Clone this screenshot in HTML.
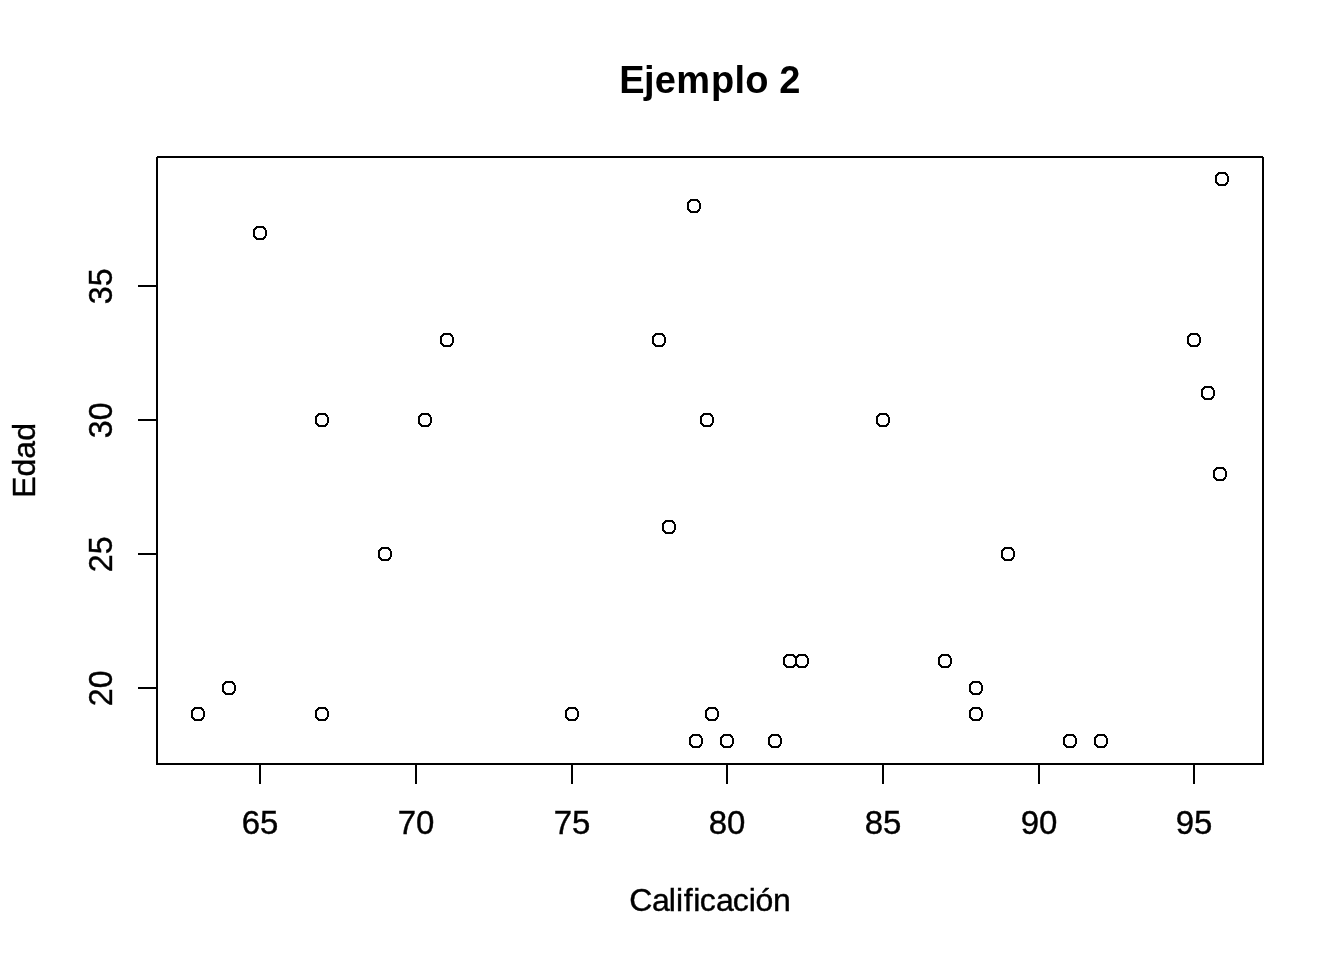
<!DOCTYPE html>
<html lang="es"><head><meta charset="utf-8"><title>Ejemplo 2</title>
<style>
html,body{margin:0;padding:0;background:#fff;}
body{width:1344px;height:960px;overflow:hidden;}
svg{display:block;}
text{font-family:"Liberation Sans",sans-serif;fill:#000;}
.t{font-size:32px;stroke:#000;stroke-width:0.4px;}
.n{font-size:33px;stroke:#000;stroke-width:0.4px;}
.m{font-size:38px;font-weight:bold;letter-spacing:0.2px;}
</style></head><body>
<svg width="1344" height="960" viewBox="0 0 1344 960">
<rect x="0" y="0" width="1344" height="960" fill="#fff"/>
<g fill="#000" fill-rule="evenodd" stroke="none" shape-rendering="crispEdges">
<path d="M194 707h8v1h1v1h1v2h1v6h-1v2h-1v1h-1v1h-8v-1h-1v-1h-1v-1h-1v-8h1v-1h1v-1h1zm1 2h6v1h1v1h1v6h-1v1h-1v1h-6v-1h-1v-1h-1v-6h1v-1h1z"/>
<path d="M225 681h8v1h1v1h1v2h1v6h-1v2h-1v1h-1v1h-8v-1h-1v-1h-1v-1h-1v-8h1v-1h1v-1h1zm1 2h6v1h1v1h1v6h-1v1h-1v1h-6v-1h-1v-1h-1v-6h1v-1h1z"/>
<path d="M256 226h8v1h1v1h1v2h1v6h-1v2h-1v1h-1v1h-8v-1h-1v-1h-1v-1h-1v-8h1v-1h1v-1h1zm1 2h6v1h1v1h1v6h-1v1h-1v1h-6v-1h-1v-1h-1v-6h1v-1h1z"/>
<path d="M318 413h8v1h1v1h1v2h1v6h-1v2h-1v1h-1v1h-8v-1h-1v-1h-1v-1h-1v-8h1v-1h1v-1h1zm1 2h6v1h1v1h1v6h-1v1h-1v1h-6v-1h-1v-1h-1v-6h1v-1h1z"/>
<path d="M318 707h8v1h1v1h1v2h1v6h-1v2h-1v1h-1v1h-8v-1h-1v-1h-1v-1h-1v-8h1v-1h1v-1h1zm1 2h6v1h1v1h1v6h-1v1h-1v1h-6v-1h-1v-1h-1v-6h1v-1h1z"/>
<path d="M381 547h8v1h1v1h1v2h1v6h-1v2h-1v1h-1v1h-8v-1h-1v-1h-1v-1h-1v-8h1v-1h1v-1h1zm1 2h6v1h1v1h1v6h-1v1h-1v1h-6v-1h-1v-1h-1v-6h1v-1h1z"/>
<path d="M421 413h8v1h1v1h1v2h1v6h-1v2h-1v1h-1v1h-8v-1h-1v-1h-1v-1h-1v-8h1v-1h1v-1h1zm1 2h6v1h1v1h1v6h-1v1h-1v1h-6v-1h-1v-1h-1v-6h1v-1h1z"/>
<path d="M443 333h8v1h1v1h1v2h1v6h-1v2h-1v1h-1v1h-8v-1h-1v-1h-1v-1h-1v-8h1v-1h1v-1h1zm1 2h6v1h1v1h1v6h-1v1h-1v1h-6v-1h-1v-1h-1v-6h1v-1h1z"/>
<path d="M568 707h8v1h1v1h1v2h1v6h-1v2h-1v1h-1v1h-8v-1h-1v-1h-1v-1h-1v-8h1v-1h1v-1h1zm1 2h6v1h1v1h1v6h-1v1h-1v1h-6v-1h-1v-1h-1v-6h1v-1h1z"/>
<path d="M655 333h8v1h1v1h1v2h1v6h-1v2h-1v1h-1v1h-8v-1h-1v-1h-1v-1h-1v-8h1v-1h1v-1h1zm1 2h6v1h1v1h1v6h-1v1h-1v1h-6v-1h-1v-1h-1v-6h1v-1h1z"/>
<path d="M665 520h8v1h1v1h1v2h1v6h-1v2h-1v1h-1v1h-8v-1h-1v-1h-1v-1h-1v-8h1v-1h1v-1h1zm1 2h6v1h1v1h1v6h-1v1h-1v1h-6v-1h-1v-1h-1v-6h1v-1h1z"/>
<path d="M690 199h8v1h1v1h1v2h1v6h-1v2h-1v1h-1v1h-8v-1h-1v-1h-1v-1h-1v-8h1v-1h1v-1h1zm1 2h6v1h1v1h1v6h-1v1h-1v1h-6v-1h-1v-1h-1v-6h1v-1h1z"/>
<path d="M692 734h8v1h1v1h1v2h1v6h-1v2h-1v1h-1v1h-8v-1h-1v-1h-1v-1h-1v-8h1v-1h1v-1h1zm1 2h6v1h1v1h1v6h-1v1h-1v1h-6v-1h-1v-1h-1v-6h1v-1h1z"/>
<path d="M703 413h8v1h1v1h1v2h1v6h-1v2h-1v1h-1v1h-8v-1h-1v-1h-1v-1h-1v-8h1v-1h1v-1h1zm1 2h6v1h1v1h1v6h-1v1h-1v1h-6v-1h-1v-1h-1v-6h1v-1h1z"/>
<path d="M708 707h8v1h1v1h1v2h1v6h-1v2h-1v1h-1v1h-8v-1h-1v-1h-1v-1h-1v-8h1v-1h1v-1h1zm1 2h6v1h1v1h1v6h-1v1h-1v1h-6v-1h-1v-1h-1v-6h1v-1h1z"/>
<path d="M723 734h8v1h1v1h1v2h1v6h-1v2h-1v1h-1v1h-8v-1h-1v-1h-1v-1h-1v-8h1v-1h1v-1h1zm1 2h6v1h1v1h1v6h-1v1h-1v1h-6v-1h-1v-1h-1v-6h1v-1h1z"/>
<path d="M771 734h8v1h1v1h1v2h1v6h-1v2h-1v1h-1v1h-8v-1h-1v-1h-1v-1h-1v-8h1v-1h1v-1h1zm1 2h6v1h1v1h1v6h-1v1h-1v1h-6v-1h-1v-1h-1v-6h1v-1h1z"/>
<path d="M786 654h8v1h1v1h1v2h1v6h-1v2h-1v1h-1v1h-8v-1h-1v-1h-1v-1h-1v-8h1v-1h1v-1h1zm1 2h6v1h1v1h1v6h-1v1h-1v1h-6v-1h-1v-1h-1v-6h1v-1h1z"/>
<path d="M798 654h8v1h1v1h1v2h1v6h-1v2h-1v1h-1v1h-8v-1h-1v-1h-1v-1h-1v-8h1v-1h1v-1h1zm1 2h6v1h1v1h1v6h-1v1h-1v1h-6v-1h-1v-1h-1v-6h1v-1h1z"/>
<path d="M879 413h8v1h1v1h1v2h1v6h-1v2h-1v1h-1v1h-8v-1h-1v-1h-1v-1h-1v-8h1v-1h1v-1h1zm1 2h6v1h1v1h1v6h-1v1h-1v1h-6v-1h-1v-1h-1v-6h1v-1h1z"/>
<path d="M941 654h8v1h1v1h1v2h1v6h-1v2h-1v1h-1v1h-8v-1h-1v-1h-1v-1h-1v-8h1v-1h1v-1h1zm1 2h6v1h1v1h1v6h-1v1h-1v1h-6v-1h-1v-1h-1v-6h1v-1h1z"/>
<path d="M972 681h8v1h1v1h1v2h1v6h-1v2h-1v1h-1v1h-8v-1h-1v-1h-1v-1h-1v-8h1v-1h1v-1h1zm1 2h6v1h1v1h1v6h-1v1h-1v1h-6v-1h-1v-1h-1v-6h1v-1h1z"/>
<path d="M972 707h8v1h1v1h1v2h1v6h-1v2h-1v1h-1v1h-8v-1h-1v-1h-1v-1h-1v-8h1v-1h1v-1h1zm1 2h6v1h1v1h1v6h-1v1h-1v1h-6v-1h-1v-1h-1v-6h1v-1h1z"/>
<path d="M1004 547h8v1h1v1h1v2h1v6h-1v2h-1v1h-1v1h-8v-1h-1v-1h-1v-1h-1v-8h1v-1h1v-1h1zm1 2h6v1h1v1h1v6h-1v1h-1v1h-6v-1h-1v-1h-1v-6h1v-1h1z"/>
<path d="M1066 734h8v1h1v1h1v2h1v6h-1v2h-1v1h-1v1h-8v-1h-1v-1h-1v-1h-1v-8h1v-1h1v-1h1zm1 2h6v1h1v1h1v6h-1v1h-1v1h-6v-1h-1v-1h-1v-6h1v-1h1z"/>
<path d="M1097 734h8v1h1v1h1v2h1v6h-1v2h-1v1h-1v1h-8v-1h-1v-1h-1v-1h-1v-8h1v-1h1v-1h1zm1 2h6v1h1v1h1v6h-1v1h-1v1h-6v-1h-1v-1h-1v-6h1v-1h1z"/>
<path d="M1190 333h8v1h1v1h1v2h1v6h-1v2h-1v1h-1v1h-8v-1h-1v-1h-1v-1h-1v-8h1v-1h1v-1h1zm1 2h6v1h1v1h1v6h-1v1h-1v1h-6v-1h-1v-1h-1v-6h1v-1h1z"/>
<path d="M1204 386h8v1h1v1h1v2h1v6h-1v2h-1v1h-1v1h-8v-1h-1v-1h-1v-1h-1v-8h1v-1h1v-1h1zm1 2h6v1h1v1h1v6h-1v1h-1v1h-6v-1h-1v-1h-1v-6h1v-1h1z"/>
<path d="M1216 467h8v1h1v1h1v2h1v6h-1v2h-1v1h-1v1h-8v-1h-1v-1h-1v-1h-1v-8h1v-1h1v-1h1zm1 2h6v1h1v1h1v6h-1v1h-1v1h-6v-1h-1v-1h-1v-6h1v-1h1z"/>
<path d="M1218 172h8v1h1v1h1v2h1v6h-1v2h-1v1h-1v1h-8v-1h-1v-1h-1v-1h-1v-8h1v-1h1v-1h1zm1 2h6v1h1v1h1v6h-1v1h-1v1h-6v-1h-1v-1h-1v-6h1v-1h1z"/>
</g>
<g fill="none" stroke="#000" stroke-width="2" shape-rendering="crispEdges">
<rect x="157" y="157" width="1106" height="607"/>
<path d="M260 764H1194"/>
<path d="M260 764V784"/>
<path d="M416 764V784"/>
<path d="M572 764V784"/>
<path d="M727 764V784"/>
<path d="M883 764V784"/>
<path d="M1039 764V784"/>
<path d="M1194 764V784"/>
<path d="M157 688V286"/>
<path d="M157 688H138"/>
<path d="M157 554H138"/>
<path d="M157 420H138"/>
<path d="M157 286H138"/>
</g>
<path fill="#fff" shape-rendering="crispEdges" d="M156 156h1v1h-1zM1263 156h1v1h-1z"/>
<text class="n" transform="translate(260 834) scale(1 0.982)" text-anchor="middle">65</text>
<text class="n" transform="translate(416 834) scale(1 0.982)" text-anchor="middle">70</text>
<text class="n" transform="translate(572 834) scale(1 0.982)" text-anchor="middle">75</text>
<text class="n" transform="translate(727 834) scale(1 0.982)" text-anchor="middle">80</text>
<text class="n" transform="translate(883 834) scale(1 0.982)" text-anchor="middle">85</text>
<text class="n" transform="translate(1039 834) scale(1 0.982)" text-anchor="middle">90</text>
<text class="n" transform="translate(1194 834) scale(1 0.982)" text-anchor="middle">95</text>
<text class="n" transform="translate(112.3 688.3) rotate(-90) scale(0.973 1)" text-anchor="middle">20</text>
<text class="n" transform="translate(112.3 554.3) rotate(-90) scale(0.973 1)" text-anchor="middle">25</text>
<text class="n" transform="translate(112.3 420.3) rotate(-90) scale(0.973 1)" text-anchor="middle">30</text>
<text class="n" transform="translate(112.3 286.3) rotate(-90) scale(0.973 1)" text-anchor="middle">35</text>
<text class="m" x="710" y="93" text-anchor="middle" dx="0 -0.8 0 0 0.8 0 0 0 0">Ejemplo 2</text>
<text class="t" x="629.2" y="910.5" dx="0 -0.1 -0.8 0.3 0.9 0.8 -0.3 0.3 -0.8 0.3 -0.1 -0.2" style="letter-spacing:-0.22px">Calificación</text>
<text class="t" transform="translate(35.4 497.8) rotate(-90)">Edad</text>
</svg></body></html>
